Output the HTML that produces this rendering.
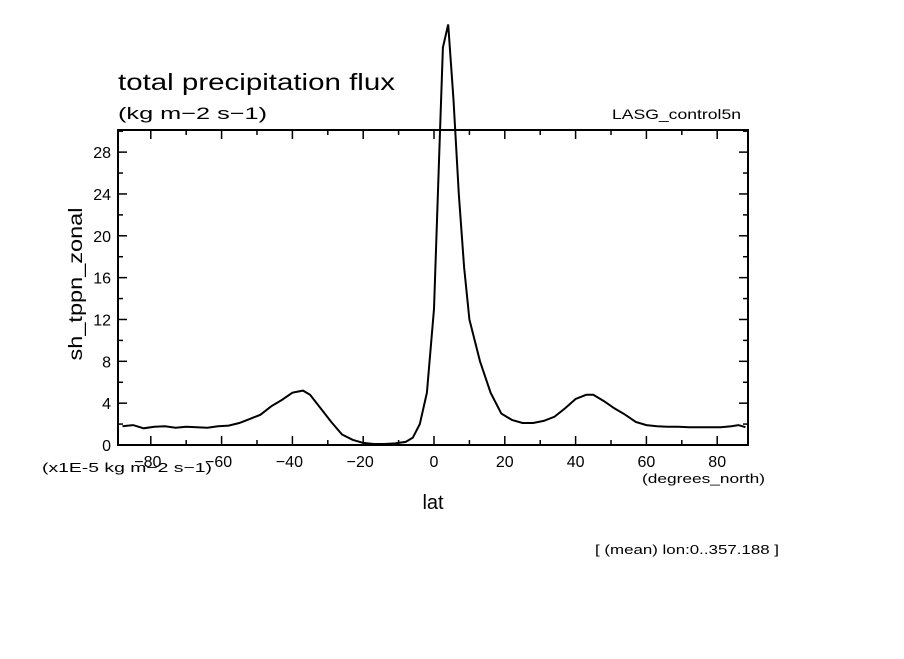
<!DOCTYPE html>
<html><head><meta charset="utf-8"><style>
body{margin:0;background:#fff;}
svg text{font-family:"Liberation Sans",sans-serif;fill:#000;}
</style></head><body>
<svg width="904" height="654" viewBox="0 0 904 654">
<rect width="904" height="654" fill="#fff"/>
<text x="118" y="90" font-size="23" textLength="277" lengthAdjust="spacingAndGlyphs">total precipitation flux</text>
<text x="118" y="119" font-size="17" textLength="149" lengthAdjust="spacingAndGlyphs">(kg m−2 s−1)</text>
<text x="612" y="119" font-size="14" textLength="129" lengthAdjust="spacingAndGlyphs">LASG_control5n</text>
<text transform="translate(82,284) rotate(-90)" text-anchor="middle" font-size="19" textLength="153" lengthAdjust="spacingAndGlyphs">sh_tppn_zonal</text>
<text x="42" y="472" font-size="13" textLength="170" lengthAdjust="spacingAndGlyphs">(x1E-5 kg m−2 s−1)</text>
<text x="642" y="483" font-size="13" textLength="123" lengthAdjust="spacingAndGlyphs">(degrees_north)</text>
<text x="433" y="509" text-anchor="middle" font-size="20">lat</text>
<text x="595" y="554" font-size="13" textLength="184" lengthAdjust="spacingAndGlyphs">[ (mean) lon:0..357.188 ]</text>
<g id="axes"></g>
<g id="series"></g>
</svg>
<script>
const lats=[-88,-85,-82,-79,-76,-73,-70,-67,-64,-61,-58,-55,-52,-49,-46,-43,-40,-37,-35,-32,-29,-26,-23,-20,-17,-14,-11,-8,-6,-4,-2,0,1.5,2.5,4,5.5,7,8.5,10,13,16,19,22,25,28,31,34,37,40,43,45,48,51,54,57,60,63,66,69,72,75,78,81,84,86,88];
const precip=[1.8,1.9,1.6,1.75,1.8,1.65,1.75,1.7,1.65,1.8,1.85,2.1,2.5,2.9,3.7,4.3,5.0,5.2,4.8,3.5,2.2,1.0,0.5,0.2,0.1,0.1,0.15,0.3,0.7,2.0,5.0,13,28,38,40.2,33,24,17,12,8,5,3,2.4,2.1,2.1,2.3,2.7,3.5,4.4,4.8,4.8,4.2,3.5,2.9,2.2,1.9,1.8,1.75,1.75,1.7,1.7,1.7,1.7,1.8,1.9,1.7];
const xTicks=[-80,-60,-40,-20,0,20,40,60,80];
const yTicks=[0,4,8,12,16,20,24,28];
const L=118,R=748,T=130,B=445;
const xs=v=>434+v*3.54;
const ys=v=>445-v*10.46;
const NS='http://www.w3.org/2000/svg';
const ax=document.getElementById('axes');
function ln(x1,y1,x2,y2,name){const e=document.createElementNS(NS,'line');
e.setAttribute('x1',x1);e.setAttribute('y1',y1);e.setAttribute('x2',x2);e.setAttribute('y2',y2);
e.setAttribute('stroke','#000');e.setAttribute('stroke-width','1.5');


ax.appendChild(e);}
const fr=document.createElementNS(NS,'rect');
fr.setAttribute('x',L);fr.setAttribute('y',T);fr.setAttribute('width',R-L);fr.setAttribute('height',B-T);
fr.setAttribute('fill','none');fr.setAttribute('stroke','#000');fr.setAttribute('stroke-width','2');


ax.appendChild(fr);
for(let v=-80;v<=80;v+=10){const x=xs(v);const len=(v%20===0)?9:5;
ln(x,B,x,B-len,'x-tick');ln(x,T,x,T+len,'x-tick-top');}
for(let v=0;v<=30;v+=2){const y=ys(v);const len=(v%4===0)?9:5;
ln(L,y,L+len,y,'y-tick');ln(R,y,R-len,y,'y-tick-right');}
xTicks.forEach(v=>{const t=document.createElementNS(NS,'text');
t.setAttribute('x',xs(v)-(v<0?3:0));t.setAttribute('y',467);t.setAttribute('text-anchor','middle');t.setAttribute('font-size','16');
t.textContent=(v<0?'−':'')+Math.abs(v);


ax.appendChild(t);});
yTicks.forEach(v=>{const t=document.createElementNS(NS,'text');
t.setAttribute('x',111);t.setAttribute('y',ys(v)+6);t.setAttribute('text-anchor','end');t.setAttribute('font-size','16');
t.textContent=v;


ax.appendChild(t);});
const p=document.createElementNS(NS,'polyline');
p.setAttribute('points',lats.map((la,i)=>xs(la).toFixed(1)+','+ys(precip[i]).toFixed(1)).join(' '));
p.setAttribute('fill','none');p.setAttribute('stroke','#000');p.setAttribute('stroke-width','2');


document.getElementById('series').appendChild(p);
</script>
</body></html>
